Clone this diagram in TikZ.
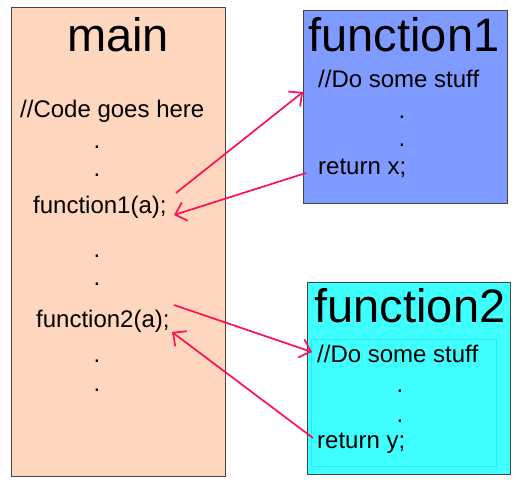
\documentclass[tikz,border=0pt]{standalone}
\usepackage{fontspec}
\setmainfont{Liberation Sans}
\usetikzlibrary{arrows.meta}
\definecolor{mainfill}{RGB}{255,215,190}
\definecolor{fonefill}{RGB}{127,155,255}
\definecolor{ftwofill}{RGB}{64,255,255}
\definecolor{ftwoedge}{RGB}{40,235,235}
\definecolor{arrcol}{RGB}{255,15,85}
\definecolor{boxedge}{RGB}{70,70,70}
\begin{document}
\begin{tikzpicture}[x=1pt,y=-1pt,
  box/.style={draw=boxedge, line width=0.9pt, anchor=north west, inner sep=0pt},
  title/.style={anchor=base, inner sep=0pt, font=\fontsize{47}{50}\selectfont},
  code/.style={anchor=base west, inner sep=0pt, font=\fontsize{24}{28}\selectfont},
  dotx/.style={anchor=base, inner sep=0pt, font=\fontsize{24}{28}\selectfont},
  arr/.style={draw=arrcol, line width=1.7pt, -{Straight Barb[length=10pt,width=19pt,line width=1.7pt]}}]
\useasboundingbox (0,0) rectangle (526,486);
% boxes
\node[box, fill=mainfill, minimum width=214pt, minimum height=469pt] (mainbox) at (11,7) {};
\node[box, fill=fonefill, minimum width=204pt, minimum height=193pt] (fonebox) at (303,10) {};
\node[box, fill=ftwofill, minimum width=203pt, minimum height=192pt] (ftwobox) at (307,282) {};
\node[draw=ftwoedge, line width=0.8pt, anchor=north west, inner sep=0pt, minimum width=185pt, minimum height=127pt] (ftwoin) at (311,339) {};
% main texts
\node[title] (maint) at (118,52) {main};
\node[code] (mcode) at (20,118) {//Code goes here};
\node[dotx] (md1) at (97,149) {.};
\node[dotx] (md2) at (97,177) {.};
\node[code] (fonecall) at (33,213) {function1(a);};
\node[dotx] (md3) at (97,257) {.};
\node[dotx] (md4) at (97,285) {.};
\node[code] (ftwocall) at (36,327) {function2(a);};
\node[dotx] (md5) at (97,362) {.};
\node[dotx] (md6) at (97,391) {.};
% function1 texts
\node[title] (fonet) at (404,52) {function1};
\node[code] (fonecode) at (318,88) {//Do some stuff};
\node[dotx] (fd1) at (402,119) {.};
\node[dotx] (fd2) at (402,147) {.};
\node[code] (foneret) at (318,175) {return x;};
% function2 texts
\node[title] (ftwot) at (410,322) {function2};
\node[code] (ftwocode) at (317,362) {//Do some stuff};
\node[dotx] (gd1) at (400,392) {.};
\node[dotx] (gd2) at (400,422) {.};
\node[code] (ftworet) at (317,448) {return y;};
% arrow end points
\coordinate (aones) at (176,193);
\coordinate (aonee) at (303,92);
\coordinate (atwos) at (306,173);
\coordinate (atwoe) at (174,215);
\coordinate (athrees) at (174,305);
\coordinate (athreee) at (312,352);
\coordinate (afours) at (313,438);
\coordinate (afoure) at (172,332);
\draw[arr] (aones) -- (aonee);
\draw[arr] (atwos) -- (atwoe);
\draw[arr] (athrees) -- (athreee);
\draw[arr] (afours) -- (afoure);
\end{tikzpicture}
\end{document}
